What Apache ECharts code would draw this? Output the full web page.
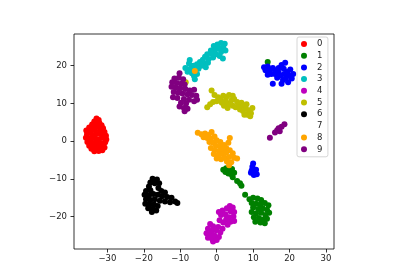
<!DOCTYPE html>
<html><head><meta charset="utf-8">
<script src="https://cdn.jsdelivr.net/npm/echarts@6/dist/echarts.min.js"></script>
<style>html,body{margin:0;padding:0;background:#fff}#c{width:400px;height:280px}</style>
</head><body><div id="c"></div><script>
const classNames = ['0','1','2','3','4','5','6','7','8','9'];
const classColors = ['#ff0000','#008000','#0000ff','#00bfbf','#bf00bf','#bfbf00','#000000','#ffffff','#ffa500','#800080'];
const xTickValues = [-30,-20,-10,0,10,20,30];
const yTickValues = [-20,-10,0,10,20];

const points0 = [[-33,6.0],[-32.4,5.6],[-33.6,5.2],[-32.2,4.8],[-34.2,4.4],[-33.0,4.5],[-31.6,4.2],[-35.0,3.6],[-33.8,3.5],[-32.6,3.8],[-31.2,3.4],[-35.8,2.8],[-34.6,2.6],[-33.4,2.9],[-32.0,2.7],[-30.8,2.4],[-35.6,1.8],[-34.2,1.6],[-33.0,1.9],[-31.6,1.7],[-30.4,1.4],[-35.9,0.9],[-34.8,0.6],[-33.6,0.8],[-32.4,0.5],[-31.2,0.9],[-30.3,0.4],[-35.5,-0.2],[-34.2,-0.4],[-33.0,-0.2],[-31.8,-0.5],[-30.6,-0.3],[-35.0,-1.2],[-33.8,-1.0],[-32.6,-1.3],[-31.3,-1.1],[-34.4,-2.0],[-33.2,-2.1],[-32.0,-1.9],[-30.8,-1.7],[-33.6,-2.7],[-32.4,-2.6],[-31.4,-2.4]];
const points1 = [[14.0,21.0],[1.8,-7.6],[2.6,-7.2],[3.4,-7.8],[4.2,-7.4],[2.4,-8.2],[3.2,-8.6],[4.0,-8.8],[4.8,-8.4],[4.4,-9.6],[5.6,-10.6],[6.4,-11.2],[6.8,-11.8],[7.8,-14.2],[9.0,-15.4],[10.0,-15.0],[11.2,-15.2],[12.2,-15.6],[9.6,-16.4],[10.8,-16.6],[12.0,-16.8],[13.2,-16.4],[14.2,-17.0],[10.0,-17.6],[11.4,-18.0],[12.6,-17.8],[13.8,-18.2],[9.6,-18.8],[10.8,-19.2],[12.2,-19.0],[13.4,-19.6],[14.4,-19.0],[10.2,-20.2],[11.6,-20.4],[12.8,-20.8],[13.8,-20.6],[10.6,-21.4],[12.0,-21.6],[13.2,-21.8]];
const points2 = [[13.0,19.6],[14.0,19.8],[13.4,18.8],[14.6,18.6],[15.4,19.4],[16.2,18.8],[15.0,17.8],[16.0,17.8],[17.0,18.2],[17.0,19.4],[17.8,20.2],[18.4,19.2],[17.6,17.4],[18.6,17.8],[19.4,18.4],[20.0,17.4],[19.0,16.6],[20.6,16.6],[21.0,17.8],[18.2,16.2],[19.6,15.6],[17.8,15.2],[15.4,15.2],[16.6,16.8],[20.2,19.0],[18.8,20.8],[14.0,17.6],[10.0,-5.9],[9.8,-6.8],[9.6,-7.8],[10.4,-8.4],[10.8,-7.6],[9.4,-8.4],[10.2,-9.0],[11.0,-8.8]];
const points3 = [[2.2,25.8],[1.2,26.0],[0.2,25.6],[-0.8,25.2],[1.8,24.8],[0.6,24.6],[-0.4,24.2],[-1.6,24.0],[2.4,24.0],[1.2,23.6],[-0.2,23.0],[-1.4,23.2],[-2.6,23.0],[0.8,22.6],[-1.0,22.2],[-2.2,21.8],[-3.2,22.4],[1.7,21.9],[-3.8,21.6],[-4.6,21.0],[-3.4,20.6],[-2.4,20.8],[-4.2,20.0],[-5.4,20.4],[-3.0,19.6],[-6.4,20.0],[-7.6,20.6],[-8.6,19.4],[-7.2,19.2],[-6.0,18.8],[-8.0,18.4],[-6.8,18.0],[-5.4,17.8],[-6.2,17.2],[-5.0,19.2],[-7.4,21.5],[-6.0,16.4]];
const points4 = [[3.6,-17.2],[4.4,-17.6],[2.8,-17.8],[1.6,-18.4],[0.6,-18.8],[3.8,-18.6],[4.8,-18.8],[1.2,-19.6],[2.4,-19.4],[3.4,-20.2],[4.6,-20.0],[2.6,-20.8],[3.8,-21.4],[4.8,-21.2],[0.8,-21.0],[1.8,-21.6],[3.0,-22.2],[-1.8,-22.0],[-1.0,-22.6],[0.4,-22.8],[1.6,-23.2],[-2.4,-23.2],[-1.4,-23.8],[-0.2,-23.6],[1.0,-24.2],[-2.8,-24.4],[-1.8,-24.8],[-0.6,-25.0],[0.6,-25.4],[-2.4,-25.6],[-1.2,-26.0],[0.0,-26.2],[-1.0,-26.6]];
const points5 = [[-8.5,15.6],[-1.4,13.4],[-0.6,12.2],[0.4,11.6],[-2.6,9.0],[-1.8,9.8],[-1.0,10.4],[0.0,10.6],[1.0,11.2],[1.8,12.0],[2.6,11.6],[3.4,12.2],[4.4,12.0],[1.4,10.2],[2.4,10.6],[3.2,10.0],[4.0,10.8],[4.8,11.2],[5.6,10.4],[4.4,9.4],[5.2,9.0],[6.0,9.6],[6.8,10.2],[7.4,9.4],[8.2,9.8],[6.4,8.4],[7.2,8.0],[8.0,8.6],[8.8,8.2],[9.4,7.4],[8.4,7.0],[9.8,8.8],[7.6,7.0],[3.0,8.8],[2.0,9.4],[9.2,6.6]];
const points6 = [[-17.6,-10.0],[-16.4,-10.2],[-18.2,-11.0],[-17.0,-11.2],[-15.8,-11.2],[-18.6,-12.0],[-16.0,-12.4],[-19.4,-13.2],[-18.2,-13.0],[-15.2,-13.2],[-14.2,-13.6],[-19.8,-14.2],[-18.6,-14.4],[-17.4,-14.0],[-16.2,-14.2],[-15.0,-14.6],[-13.6,-14.8],[-12.4,-15.0],[-19.4,-15.4],[-18.2,-15.6],[-17.0,-15.4],[-15.6,-15.8],[-14.2,-16.0],[-12.8,-16.2],[-11.4,-16.0],[-10.8,-16.4],[-19.6,-16.6],[-18.4,-16.8],[-17.2,-16.8],[-16.2,-17.2],[-18.8,-17.8],[-17.6,-18.0],[-16.6,-18.4],[-17.8,-18.8]];
const points7 = [[23.5,2.0],[25.0,4.0],[26.5,1.0],[28.9,3.0],[24.2,6.0],[27.0,7.0]];
const points8 = [[-6.0,18.6],[-5.2,2.2],[-4.2,1.8],[-3.2,2.0],[-2.2,1.6],[-1.4,2.4],[-3.6,1.0],[-2.6,0.8],[-1.6,0.6],[-0.6,1.2],[-2.0,-0.2],[-1.0,-0.4],[0.0,0.2],[1.0,-0.2],[-0.2,-1.2],[1.0,-1.4],[2.0,-1.0],[-1.6,-1.8],[-0.6,-2.4],[0.6,-2.6],[1.6,-2.2],[2.6,-1.8],[3.2,-0.4],[3.6,0.8],[-0.8,-3.4],[0.4,-3.8],[1.6,-3.4],[2.6,-3.0],[3.6,-2.4],[4.4,-3.2],[2.2,-4.4],[3.4,-4.2],[4.8,-4.4],[1.2,-4.8],[2.8,-5.4],[4.0,-5.6],[5.6,-4.6],[3.4,-6.4],[0.0,-4.6]];
const points9 = [[-10.2,18.0],[-11.6,16.6],[-10.4,16.8],[-9.2,16.4],[-12.2,15.6],[-11.0,15.4],[-9.8,15.2],[-8.8,15.0],[-12.4,14.4],[-11.2,14.2],[-10.0,14.0],[-8.6,13.8],[-7.4,13.4],[-6.2,13.6],[-11.8,13.0],[-10.6,12.8],[-9.4,12.6],[-8.0,12.4],[-6.8,12.2],[-5.6,12.0],[-12.0,11.6],[-10.8,11.4],[-9.0,11.2],[-7.6,11.0],[-6.2,10.6],[-5.4,11.0],[-9.8,10.2],[-8.4,10.0],[-10.2,9.2],[-9.0,8.8],[-8.0,8.6],[-8.8,7.9],[14.6,0.9],[16.0,2.3],[16.6,2.9],[17.3,2.6],[17.0,3.4],[17.8,3.8],[18.6,4.5]];

const allPoints = [points0,points1,points2,points3,points4,points5,points6,points7,points8,points9];
const fmt = v => v < 0 ? '\u2212' + Math.abs(v) : String(v);
const font = 'DejaVu Sans';

const chart = echarts.init(document.getElementById('c'), null, {renderer:'canvas'});
chart.setOption({
  animation: false,
  backgroundColor: '#fff',
  grid: {left: 74, right: 66, top: 34, bottom: 31, show: true, borderColor: '#000', borderWidth: 0.8, backgroundColor: 'transparent'},
  xAxis: {
    type: 'value', min: -39.17, max: 32.2,
    axisLine: {show: false, onZero: false},
    splitLine: {show: false},
    axisTick: {show: true, inside: false, length: 3.5, lineStyle: {color: '#000', width: 0.8}, customValues: xTickValues},
    axisLabel: {customValues: xTickValues, formatter: fmt, margin: 5, fontSize: 8.5, color: '#222', fontFamily: font}
  },
  yAxis: {
    type: 'value', min: -28.6, max: 28.4,
    axisLine: {show: false, onZero: false},
    splitLine: {show: false},
    axisTick: {show: true, inside: false, length: 3.5, lineStyle: {color: '#000', width: 0.8}, customValues: yTickValues},
    axisLabel: {customValues: yTickValues, formatter: fmt, margin: 7, fontSize: 8.5, color: '#222', fontFamily: font}
  },
  legend: {
    orient: 'vertical', left: 297, top: 37,
    padding: [2, 5.5, 2.5, 4],
    itemWidth: 16, itemHeight: 6, itemGap: 1.7,
    backgroundColor: 'rgba(255,255,255,0.8)', borderColor: '#cccccc', borderWidth: 0.8, borderRadius: 2,
    textStyle: {fontSize: 8.5, lineHeight: 10, color: '#222', fontFamily: font},
    data: classNames.map(n => ({name: n, icon: 'circle'}))
  },
  series: classNames.map((n, i) => ({
    name: n, type: 'scatter', data: allPoints[i], symbolSize: 6,
    itemStyle: {color: classColors[i], opacity: 1},
    emphasis: {disabled: true}
  }))
});
</script></body></html>
